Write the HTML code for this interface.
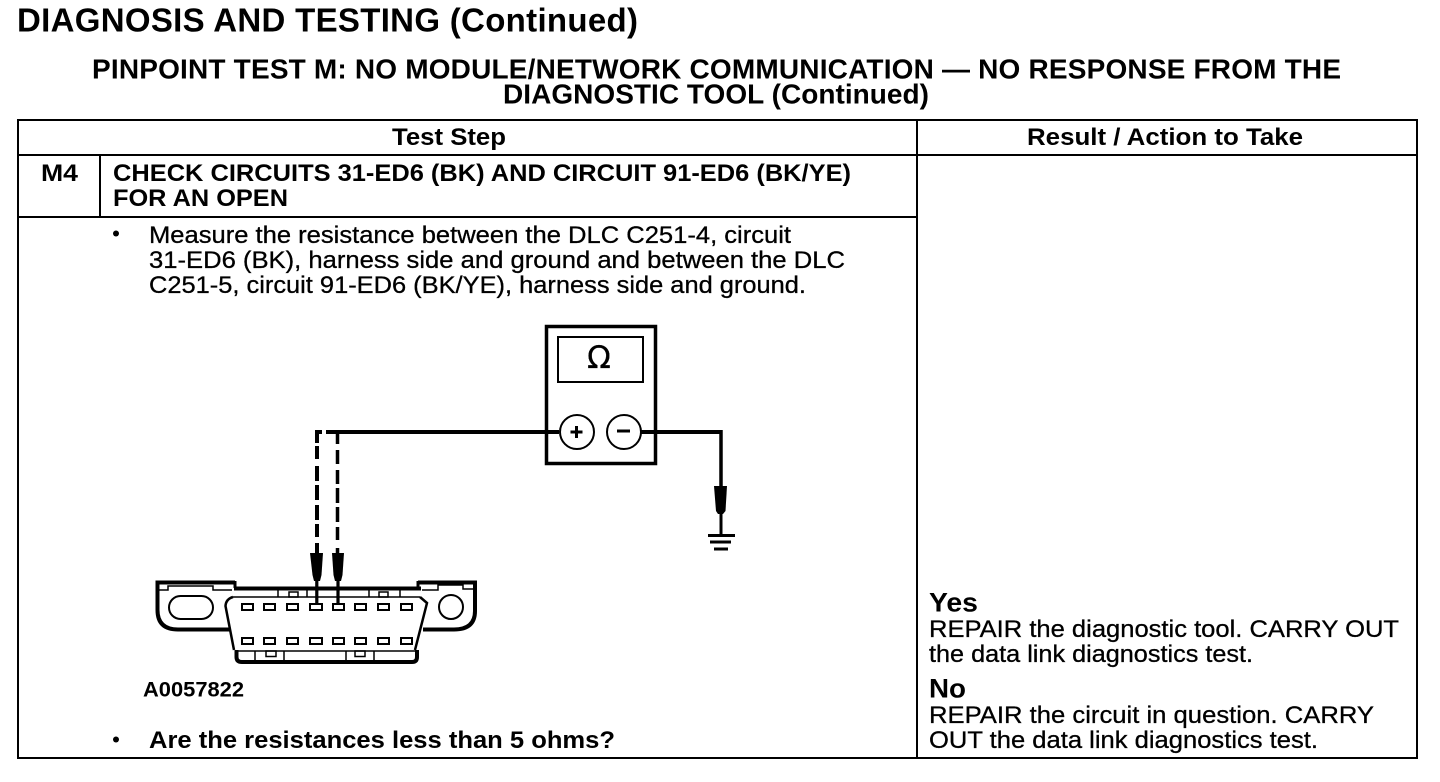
<!DOCTYPE html>
<html>
<head>
<meta charset="utf-8">
<style>
html,body{margin:0;padding:0;background:#fff;width:1440px;height:782px;overflow:hidden}
svg{display:block}
text{font-family:"Liberation Sans",sans-serif;fill:#000}
.b{font-weight:bold}
.r{stroke:#000;stroke-width:.3px}
</style>
</head>
<body>
<svg width="1440" height="782" viewBox="0 0 1440 782" xmlns="http://www.w3.org/2000/svg">
<text class="b" x="17" y="31.5" font-size="33" textLength="621" lengthAdjust="spacing">DIAGNOSIS AND TESTING (Continued)</text>
<text class="b" x="92" y="78.5" font-size="28" textLength="1249" lengthAdjust="spacing">PINPOINT TEST M: NO MODULE/NETWORK COMMUNICATION — NO RESPONSE FROM THE</text>
<text class="b" x="503" y="103.5" font-size="28" textLength="426" lengthAdjust="spacing">DIAGNOSTIC TOOL (Continued)</text>

<g stroke="#000" stroke-width="2" fill="none" shape-rendering="crispEdges">
<rect x="18" y="120" width="1399" height="638"/>
<path d="M18 155H1417M917 120V758M18 217H917M100 155V217"/>
</g>

<text class="b" x="392" y="145" font-size="24.5" textLength="114" lengthAdjust="spacingAndGlyphs">Test Step</text>
<text class="b" x="1027" y="145" font-size="24.5" textLength="276" lengthAdjust="spacingAndGlyphs">Result / Action to Take</text>
<text class="b" x="41" y="181" font-size="24.5" textLength="37" lengthAdjust="spacingAndGlyphs">M4</text>
<text class="b" x="113" y="181" font-size="24.5" textLength="738" lengthAdjust="spacingAndGlyphs">CHECK CIRCUITS 31-ED6 (BK) AND CIRCUIT 91-ED6 (BK/YE)</text>
<text class="b" x="113" y="206" font-size="24.5" textLength="175" lengthAdjust="spacingAndGlyphs">FOR AN OPEN</text>

<circle cx="116" cy="233.5" r="3" fill="#000"/>
<text class="r" x="149" y="243" font-size="24" textLength="642" lengthAdjust="spacingAndGlyphs">Measure the resistance between the DLC C251-4, circuit</text>
<text class="r" x="149" y="268" font-size="24" textLength="696" lengthAdjust="spacingAndGlyphs">31-ED6 (BK), harness side and ground and between the DLC</text>
<text class="r" x="149" y="293" font-size="24" textLength="657" lengthAdjust="spacingAndGlyphs">C251-5, circuit 91-ED6 (BK/YE), harness side and ground.</text>

<!-- meter -->
<g fill="none" stroke="#000">
<rect x="546.5" y="326.5" width="109" height="137" stroke-width="3.5"/>
<rect x="558" y="337" width="85" height="45" stroke-width="2"/>
<path d="M336 432H559M640 432H721" stroke-width="4"/>
<path d="M721 430V490" stroke-width="3.5"/>
<path d="M315 432H322M326 432H336" stroke-width="4"/>
<path d="M317 430V443M317 446V459M317 466V481M317 485V500M317 505V520M317 524V537M317 543V553" stroke-width="4"/>
<path d="M337.5 430V444M337.5 450V464M337.5 470V484M337.5 488V503M337.5 507V522M337.5 527V540M337.5 548V553" stroke-width="3.5"/>
<circle cx="577" cy="432" r="17" fill="#fff" stroke-width="2"/>
<circle cx="624" cy="432" r="17" fill="#fff" stroke-width="2"/>
<path d="M570.5 432H582.5M576.5 426V438M617 431H630" stroke-width="3"/>
<path d="M721 510V535" stroke-width="3"/>
<path d="M708 535.5H735" stroke-width="3"/>
<path d="M710 542H731" stroke-width="3"/>
<path d="M714 549H728" stroke-width="3"/>
</g>
<text class="r" x="599" y="368" font-size="31" text-anchor="middle" style="font-family:'DejaVu Sans',sans-serif">Ω</text>
<path d="M714 486H727L725.5 511L723 514H718L716 511Z" fill="#000"/>

<!-- probes -->
<path d="M310 553H323L321.5 575L320 581H314L312.5 575Z" fill="#000"/>
<path d="M332 553H344L342.5 575L341 581H335L333.5 575Z" fill="#000"/>
<path d="M316.8 580V604M338 580V604" stroke="#000" stroke-width="3.2" fill="none"/>

<!-- connector -->
<g fill="none" stroke="#000">
<path d="M235 582.5H157.5V610Q157.5 629.5 178 629.5H230" stroke-width="4"/>
<path d="M418 582.5H475V611Q475 629.5 454 629.5H423" stroke-width="4"/>
<path d="M234 588.5H421" stroke-width="4"/>
<path d="M235 581V588M418 581V590" stroke-width="3"/>
<path d="M233 597H420" stroke-width="1.5"/>
<path d="M233 597Q226 599 225.5 606L234 650" stroke-width="2.5"/>
<path d="M420 597L427 603L415 650" stroke-width="2.5"/>
<path d="M235 651H417" stroke-width="1.5"/>
<path d="M236.5 650V657Q236.5 662 242 662H412Q417 662 417 657V650" stroke-width="4"/>
<path d="M159 590H168V586H213V590H232" stroke-width="1.5"/>
<path d="M422 590H438V585H463V589H474" stroke-width="1.5"/>
<rect x="169" y="596" width="44" height="23" rx="11.5" stroke-width="2"/>
<circle cx="451" cy="607" r="12" stroke-width="2"/>
<path d="M278 590V597M307 590V597M369 590V597M400 590V597M255 651V661M284 651V661M346 651V661M374 651V661" stroke-width="1.5"/>
<rect x="289" y="592" width="9" height="5" stroke-width="1.5"/>
<rect x="379" y="592" width="9" height="5" stroke-width="1.5"/>
<rect x="266" y="651" width="10" height="5.5" stroke-width="1.5"/>
<rect x="355" y="651" width="10" height="5.5" stroke-width="1.5"/>
<g stroke-width="2" shape-rendering="crispEdges">
<rect x="242" y="604" width="11" height="6"/><rect x="264" y="604" width="11" height="6"/><rect x="287" y="604" width="11" height="6"/><rect x="310" y="604" width="12" height="6"/><rect x="333" y="604" width="11" height="6"/><rect x="355" y="604" width="11" height="6"/><rect x="378" y="604" width="11" height="6"/><rect x="401" y="604" width="11" height="6"/>
<rect x="242" y="638" width="11" height="6"/><rect x="264" y="638" width="11" height="6"/><rect x="287" y="638" width="11" height="6"/><rect x="310" y="638" width="12" height="6"/><rect x="333" y="638" width="11" height="6"/><rect x="355" y="638" width="11" height="6"/><rect x="378" y="638" width="11" height="6"/><rect x="401" y="638" width="11" height="6"/>
</g>
</g>

<text class="b" x="143" y="696.5" font-size="21" textLength="101" lengthAdjust="spacingAndGlyphs">A0057822</text>
<circle cx="116" cy="739.5" r="3" fill="#000"/>
<text class="b" x="149" y="748" font-size="24.5" textLength="466" lengthAdjust="spacingAndGlyphs">Are the resistances less than 5 ohms?</text>

<text class="b" x="929" y="611.5" font-size="27" textLength="49" lengthAdjust="spacingAndGlyphs">Yes</text>
<text class="r" x="929" y="637" font-size="24" textLength="470" lengthAdjust="spacingAndGlyphs">REPAIR the diagnostic tool. CARRY OUT</text>
<text class="r" x="929" y="662" font-size="24" textLength="324" lengthAdjust="spacingAndGlyphs">the data link diagnostics test.</text>
<text class="b" x="929" y="697.5" font-size="27" textLength="37" lengthAdjust="spacingAndGlyphs">No</text>
<text class="r" x="929" y="723" font-size="24" textLength="445" lengthAdjust="spacingAndGlyphs">REPAIR the circuit in question. CARRY</text>
<text class="r" x="929" y="748" font-size="24" textLength="389" lengthAdjust="spacingAndGlyphs">OUT the data link diagnostics test.</text>
</svg>
</body>
</html>
